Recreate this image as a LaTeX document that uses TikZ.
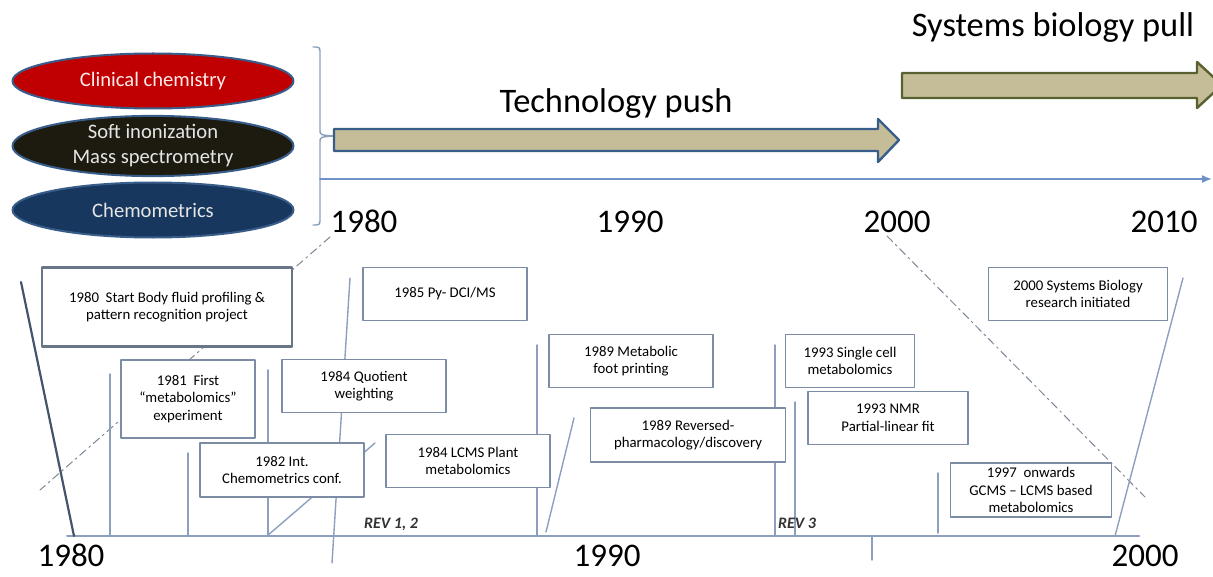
\documentclass[tikz,border=0pt]{standalone}
\usepackage{fontspec}
\setmainfont{Carlito}
\usetikzlibrary{shapes.geometric,arrows.meta}
\definecolor{slate}{RGB}{56,93,138}
\definecolor{olive}{RGB}{88,98,48}
\definecolor{tan}{RGB}{196,189,151}
\definecolor{redfill}{RGB}{192,0,0}
\definecolor{darkfill}{RGB}{29,27,16}
\definecolor{navyfill}{RGB}{23,55,94}
\definecolor{tickline}{RGB}{140,160,190}
\definecolor{boxline}{RGB}{125,140,165}
\definecolor{axisline}{RGB}{110,145,200}
\definecolor{darkline}{RGB}{68,84,106}

\begin{document}
\begin{tikzpicture}[
    x=0.5pt,y=-0.5pt,
    line cap=round,line join=round,
    tick/.style={draw=tickline,line width=0.7pt},
    guide/.style={draw=darkline!70,line width=0.5pt,dash pattern=on 4pt off 2pt on 1pt off 2pt},
    event/.style={draw=boxline,fill=white,line width=0.8pt,align=center,inner sep=0pt,
        font=\fontsize{7.4}{8.8}\selectfont},
    field/.style={ellipse,draw=slate,line width=1pt,align=center,inner sep=0pt,
        minimum width=140.5pt,minimum height=27.5pt,font=\fontsize{10.3}{12.5}\selectfont},
    year/.style={anchor=base,inner sep=0.5pt,font=\fontsize{16.5}{16.5}\selectfont},
    rev/.style={anchor=base,text=black!80,font=\fontsize{8}{8}\selectfont\bfseries\itshape},
]
    \useasboundingbox (0,0) rectangle (1213,577);
    \clip (0,0) rectangle (1213,577);

    % research fields
    \node[field,fill=redfill,text=red!8] (clinical) at (153,81) {Clinical chemistry};
    \node[field,fill=darkfill,text=white!90!black] (softion) at (153,146) {Soft inonization\\Mass spectrometry};
    \node[field,fill=navyfill,text=white!90!black] (chemo) at (153,210) {Chemometrics};

    % brace and time axis
    \coordinate (pushtail) at (334,136);
    \draw[tick] (313,47) .. controls (320,47) .. (320,54) -- (320,130)
        .. controls (320,135) .. (pushtail);
    \draw[tick] (pushtail) .. controls (320,137) .. (320,142) -- (320,218)
        .. controls (320,225) .. (313,225);
    \draw[draw=axisline,line width=0.8pt,-{Latex[length=5pt,width=4pt]}] (320,179) -- (1212,179);

    % push and pull arrows
    \draw[draw=slate,fill=tan,line width=1.2pt] (334,129) -- (878,129) -- (878,119) -- (899,140)
        -- (878,162) -- (878,151) -- (334,151) -- cycle;
    \draw[draw=olive,fill=tan,line width=1.2pt] (902,73) -- (1197,73) -- (1197,62) -- (1222,85)
        -- (1197,108) -- (1197,98) -- (902,98) -- cycle;
    \node[year,font=\fontsize{17.2}{17.2}\selectfont] (push) at (616,113) {Technology push};
    \node[year,font=\fontsize{17.2}{17.2}\selectfont] (pull) at (1053,37) {Systems biology pull};

    \node[year] (top1980) at (364,232) {1980};
    \node[year] (top1990) at (630,232) {1990};
    \node[year] (top2000) at (897,232) {2000};
    \node[year] (top2010) at (1164,232) {2010};

    % zoom guides
    \draw[guide] (330,237) -- (40,490);
    \draw[guide] (887,236) -- (1145,497);

    % lower time line
    \draw[draw=tickline,line width=1pt] (67,536) -- (1139,536);
    \draw[draw=darkline,line width=1.1pt] (21,282) -- (74,536);
    \draw[tick] (1183,278) -- (1115,536);
    \draw[tick] (110,374) -- (110,536);
    \draw[tick] (188,453) -- (188,536);
    \draw[tick] (268,370) -- (268,536);
    \draw[tick] (267,536) -- (375,443);
    \draw[tick] (350,278) -- (332,563);
    \draw[tick] (537,345) -- (537,536);
    \draw[tick] (574,418) -- (546,532);
    \draw[tick] (775,345) -- (775,536);
    \draw[tick] (795,402) -- (795,536);
    \draw[tick] (938,473) -- (938,533);
    \draw[tick] (872,536) -- (872,560);

    % events
    \node[event,draw=darkline!80,line width=1.1pt,minimum width=125pt,minimum height=39.5pt] (ev1980) at (167,307)
        {1980\ \ Start Body fluid profiling \&\\pattern recognition project};
    \node[event,minimum width=67pt,minimum height=39pt] (ev1981) at (188,399)
        {1981\ \ First\\“metabolomics”\\experiment};
    \node[event,minimum width=82pt,minimum height=27pt] (ev1982) at (282,470)
        {1982 Int.\\Chemometrics conf.};
    \node[event,minimum width=82pt,minimum height=26.5pt] (ev1984q) at (364,386)
        {1984 Quotient\\weighting};
    \node[event,minimum width=82pt,minimum height=26.5pt] (ev1985) at (445,294)
        {1985 Py- DCI/MS};
    \node[event,minimum width=82pt,minimum height=26.5pt] (ev1984p) at (468,461)
        {1984 LCMS Plant\\metabolomics};
    \node[event,minimum width=82pt,minimum height=26.5pt] (ev1989m) at (631,361)
        {1989 Metabolic\\foot printing};
    \node[event,minimum width=97.5pt,minimum height=27pt] (ev1989r) at (688,435)
        {1989 Reversed-\\pharmacology/discovery};
    \node[event,minimum width=64.5pt,minimum height=26.5pt] (ev1993s) at (850,361)
        {1993 Single cell\\metabolomics};
    \node[event,minimum width=80pt,minimum height=26.5pt] (ev1993n) at (888,418)
        {1993 NMR\\Partial-linear fit};
    \node[event,minimum width=89.5pt,minimum height=26.5pt] (ev2000) at (1078,294)
        {2000 Systems Biology\\research initiated};
    \node[event,minimum width=80.5pt,minimum height=27pt] (ev1997) at (1031,490)
        {1997\ \ onwards\\GCMS – LCMS based\\metabolomics};

    \node[rev] (rev12) at (391,528) {REV 1, 2};
    \node[rev] (rev3) at (797,528) {REV 3};

    \node[year] (low1980) at (71,566) {1980};
    \node[year] (low1990) at (607,566) {1990};
    \node[year] (low2000) at (1145,566) {2000};
\end{tikzpicture}
\end{document}
